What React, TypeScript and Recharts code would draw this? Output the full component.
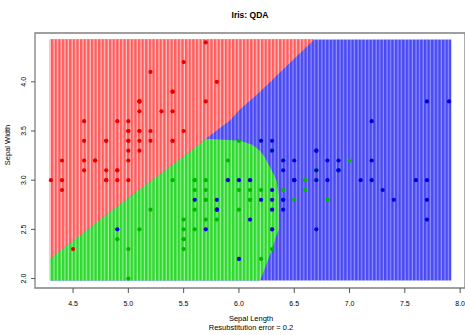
import React from "react";
import { ComposedChart, XAxis, YAxis, Area, Scatter, ReferenceArea } from "recharts";

const xTicks = [4.5, 5.0, 5.5, 6.0, 6.5, 7.0, 7.5, 8.0];
const yTicks = [2.0, 2.5, 3.0, 3.5, 4.0];

// sepal length, sepal width
const setosa = [
  [5.1, 3.5], [4.9, 3.0], [4.7, 3.2], [4.6, 3.1], [5.0, 3.6], [5.4, 3.9], [4.6, 3.4], [5.0, 3.4], [4.4, 2.9], [4.9, 3.1],
  [5.4, 3.7], [4.8, 3.4], [4.8, 3.0], [4.3, 3.0], [5.8, 4.0], [5.7, 4.4], [5.4, 3.9], [5.1, 3.5], [5.7, 3.8], [5.1, 3.8],
  [5.4, 3.4], [5.1, 3.7], [4.6, 3.6], [5.1, 3.3], [4.8, 3.4], [5.0, 3.0], [5.0, 3.4], [5.2, 3.5], [5.2, 3.4], [4.7, 3.2],
  [4.8, 3.1], [5.4, 3.4], [5.2, 4.1], [5.5, 4.2], [4.9, 3.1], [5.0, 3.2], [5.5, 3.5], [4.9, 3.6], [4.4, 3.0], [5.1, 3.4],
  [5.0, 3.5], [4.5, 2.3], [4.4, 3.2], [5.0, 3.5], [5.1, 3.8], [4.8, 3.0], [5.1, 3.8], [4.6, 3.2], [5.3, 3.7], [5.0, 3.3],
];
const versicolor = [
  [7.0, 3.2], [6.4, 3.2], [6.9, 3.1], [5.5, 2.3], [6.5, 2.8], [5.7, 2.8], [6.3, 3.3], [4.9, 2.4], [6.6, 2.9], [5.2, 2.7],
  [5.0, 2.0], [5.9, 3.0], [6.0, 2.2], [6.1, 2.9], [5.6, 2.9], [6.7, 3.1], [5.6, 3.0], [5.8, 2.7], [6.2, 2.2], [5.6, 2.5],
  [5.9, 3.2], [6.1, 2.8], [6.3, 2.5], [6.1, 2.8], [6.4, 2.9], [6.6, 3.0], [6.8, 2.8], [6.7, 3.0], [6.0, 2.9], [5.7, 2.6],
  [5.5, 2.4], [5.5, 2.4], [5.8, 2.7], [6.0, 2.7], [5.4, 3.0], [6.0, 3.4], [6.7, 3.1], [6.3, 2.3], [5.6, 3.0], [5.5, 2.5],
  [5.5, 2.6], [6.1, 3.0], [5.8, 2.6], [5.0, 2.3], [5.6, 2.7], [5.7, 3.0], [5.7, 2.9], [6.2, 2.9], [5.1, 2.5], [5.7, 2.8],
];
const virginica = [
  [6.3, 3.3], [5.8, 2.7], [7.1, 3.0], [6.3, 2.9], [6.5, 3.0], [7.6, 3.0], [4.9, 2.5], [7.3, 2.9], [6.7, 2.5], [7.2, 3.6],
  [6.5, 3.2], [6.4, 2.7], [6.8, 3.0], [5.7, 2.5], [5.8, 2.8], [6.4, 3.2], [6.5, 3.0], [7.7, 3.8], [7.7, 2.6], [6.0, 2.2],
  [6.9, 3.2], [5.6, 2.8], [7.7, 2.8], [6.3, 2.7], [6.7, 3.3], [7.2, 3.2], [6.2, 2.8], [6.1, 3.0], [6.4, 2.8], [7.2, 3.0],
  [7.4, 2.8], [7.9, 3.8], [6.4, 2.8], [6.3, 2.8], [6.1, 2.6], [7.7, 3.0], [6.3, 3.4], [6.4, 3.1], [6.0, 3.0], [6.9, 3.1],
  [6.7, 3.1], [6.9, 3.1], [5.8, 2.7], [6.8, 3.2], [6.7, 3.3], [6.7, 3.0], [6.3, 2.5], [6.5, 3.0], [6.2, 3.4], [5.9, 3.0],
];

// classification regions: [x, low, high]
const blueRegion = [[4.29, 1.98, 4.43], [7.92, 1.98, 4.43]];
const redRegion = [
  [4.29, 2.2, 4.43], [4.93, 2.76, 4.43], [5.58, 3.31, 4.43], [5.7, 3.42, 4.43],
  [5.92, 3.61, 4.43], [6.01, 3.72, 4.43], [6.19, 3.9, 4.43], [6.68, 4.43, 4.43],
];
const greenRegion = [
  [4.29, 1.98, 2.2], [4.93, 1.98, 2.76], [5.58, 1.98, 3.31], [5.7, 1.98, 3.42], [6.01, 1.98, 3.4],
  [6.12, 1.98, 3.36], [6.19, 1.98, 3.3], [6.23, 2.09, 3.24], [6.3, 2.3, 3.09], [6.34, 2.44, 3.0], [6.36, 2.5, 2.85],
];

const toRange = (rows: number[][]) => rows.map(([x, lo, hi]) => ({ x, r: [lo, hi] }));
const toPts = (rows: number[][]) => rows.map(([x, y]) => ({ x, y }));

const FONT = "'Liberation Sans', Arial, sans-serif";

const dot = (color: string) => (props: any) =>
  <circle cx={props.cx} cy={props.cy} r={2.1} fill={color} />;

const YTick = ({ x, y, payload }: any) => (
  <text x={x} y={y} transform={`rotate(-90 ${x} ${y})`} textAnchor="middle" fontSize={7} fontFamily={FONT} fill="#000">
    {payload.value.toFixed(1)}
  </text>
);

const stripes = (id: string, strong: string, pale: string) => (
  <pattern id={id} patternUnits="userSpaceOnUse" x={51} y={0} width={3.62} height={3}>
    <rect width={3.62} height={3} fill={pale} />
    <rect width={2.4} height={3} fill={strong} />
  </pattern>
);

export default function App() {
  return (
    <div style={{ position: "absolute", left: 0, top: 0, width: 465, height: 335, background: "#fff" }}>
      <ComposedChart width={465} height={335} margin={{ top: 33, right: 0, bottom: 0, left: 0 }}>
        <defs>
          {stripes("pRed", "#ff5c5c", "#ffc8c8")}
          {stripes("pGreen", "#2ed82e", "#96f096")}
          {stripes("pBlue", "#4a4af2", "#9090ff")}
        </defs>
        <XAxis
          type="number"
          dataKey="x"
          domain={[4.156, 8.044]}
          ticks={xTicks}
          tickFormatter={(v) => v.toFixed(1)}
          allowDataOverflow
          height={47}
          axisLine={false}
          tickSize={5}
          tickMargin={8}
          tick={{ fontSize: 7, fontFamily: FONT, fill: "#000" }}
          tickLine={{ stroke: "#555" }}
        />
        <YAxis
          type="number"
          dataKey="y"
          domain={[1.904, 4.496]}
          ticks={yTicks}
          allowDataOverflow
          width={35}
          axisLine={false}
          tickSize={4}
          tickMargin={4.5}
          tick={<YTick />}
          tickLine={{ stroke: "#555" }}
        />
        <Area data={toRange(blueRegion)} dataKey="r" type="linear" stroke="none" fill="url(#pBlue)" fillOpacity={1} isAnimationActive={false} />
        <Area data={toRange(redRegion)} dataKey="r" type="linear" stroke="none" fill="url(#pRed)" fillOpacity={1} isAnimationActive={false} />
        <Area data={toRange(greenRegion)} dataKey="r" type="linear" stroke="none" fill="url(#pGreen)" fillOpacity={1} isAnimationActive={false} />
        <Scatter data={toPts(setosa)} shape={dot("#e80000")} isAnimationActive={false} />
        <Scatter data={toPts(versicolor)} shape={dot("#00b800")} isAnimationActive={false} />
        <Scatter data={toPts(virginica)} shape={dot("#0000dd")} isAnimationActive={false} />
        <ReferenceArea x1={4.156} x2={8.044} y1={1.904} y2={4.496} fill="none" stroke="#808080" strokeWidth={1.3} />
        <text x={250} y={18} textAnchor="middle" fontSize={8.5} fontWeight="bold" fontFamily={FONT} fill="#000">Iris: QDA</text>
        <text x={251} y={321} textAnchor="middle" fontSize={7.5} fontFamily={FONT} fill="#000">Sepal Length</text>
        <text x={251} y={329.5} textAnchor="middle" fontSize={7.5} fontFamily={FONT} fill="#000">Resubstitution error = 0.2</text>
        <text x={10} y={145} transform="rotate(-90 10 145)" textAnchor="middle" fontSize={7.5} fontFamily={FONT} fill="#000">Sepal Width</text>
      </ComposedChart>
    </div>
  );
}
